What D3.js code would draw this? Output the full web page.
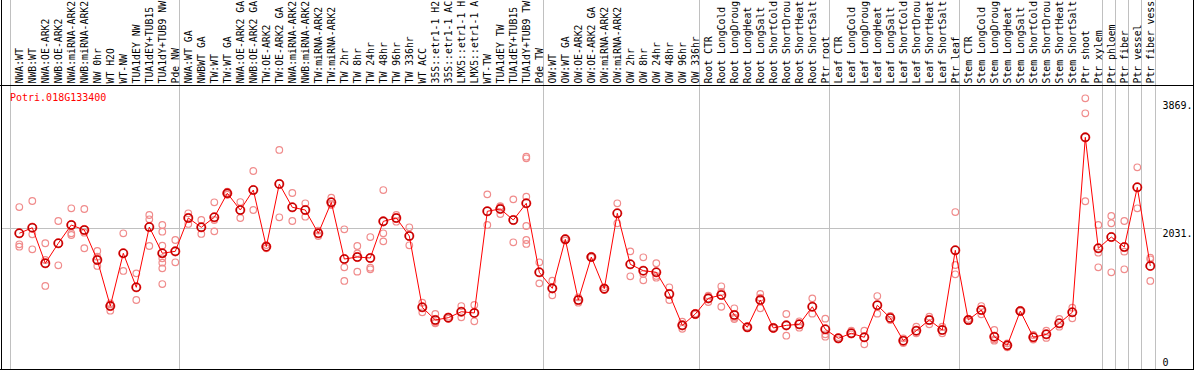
<!DOCTYPE html>
<html>
<head>
<meta charset="utf-8">
<script src="https://cdn.jsdelivr.net/npm/d3@7/dist/d3.min.js"></script>
<style>
  html, body { margin: 0; padding: 0; background: #fff; }
  svg { display: block; }
  text { font-family: "DejaVu Sans Mono", "Liberation Mono", monospace; }
</style>
</head>
<body>
<svg id="chart" width="1194" height="370"></svg>
<script>
const title = "Potri.018G133400";

const categories = [
  "NWA:WT","NWB:WT","NWA:OE-ARK2","NWB:OE-ARK2","NWA:miRNA-ARK2","NWB:miRNA-ARK2","NW 0hr","WT H2O","WT-NW","TUA1dEY NW",
  "TUA1dEY+TUB15","TUA1dY+TUB9 NW","Pde NW",
  "NWA:WT GA","NWBWT GA","TW:WT","TW:WT GA","NWA:OE-ARK2 GA","NWB:OE-ARK2 GA","TW:OE-ARK2","TW:OE-ARK2 GA",
  "NWA:miRNA-ARK2","NWB:miRNA-ARK2","TW:miRNA-ARK2","TW:miRNA-ARK2","TW 2hr","TW 8hr","TW 24hr","TW 48hr","TW 96hr","TW 336hr",
  "WT ACC","35S::etr1-1 H2","35S::etr1-1 AC","LMX5::etr1-1 H","LMX5::etr1-1 A","WT-TW","TUA1dEY TW","TUA1dEY+TUB15","TUA1dY+TUB9 TW","Pde TW",
  "OW:WT","OW:WT GA","OW:OE-ARK2","OW:OE-ARK2 GA","OW:miRNA-ARK2","OW:miRNA-ARK2","OW 2hr","OW 8hr","OW 24hr","OW 48hr","OW 96hr","OW 336hr",
  "Root CTR","Root LongCold","Root LongDroug","Root LongHeat","Root LongSalt","Root ShortCold","Root ShortDrou","Root ShortHeat","Root ShortSalt","Ptr root",
  "Leaf CTR","Leaf LongCold","Leaf LongDroug","Leaf LongHeat","Leaf LongSalt","Leaf ShortCold","Leaf ShortDrou","Leaf ShortHeat","Leaf ShortSalt","Ptr leaf",
  "Stem CTR","Stem LongCold","Stem LongDroug","Stem LongHeat","Stem LongSalt","Stem ShortCold","Stem ShortDrou","Stem ShortHeat","Stem ShortSalt","Ptr shoot","Ptr xylem",
  "Ptr phloem","Ptr fiber","Ptr vessel","Ptr fiber vess"
];

const groupSizes = [13, 28, 12, 10, 10, 11, 1, 1, 1, 1];

const means = [
  1955,2035,1523,1811,2074,2002,1570,907,1667,1177,
  2045,1667,1695,2175,2041,2185,2531,2290,2578,1762,
  2665,2329,2290,1955,2401,1584,1613,1599,2127,2175,
  1916,889,706,739,825,807,2272,2305,2146,2387,
  1393,1162,1868,994,1613,1157,2243,1508,1416,1393,
  1080,629,792,1018,1066,778,601,994,591,629,
  644,897,572,442,514,457,918,735,408,552,
  706,562,1710,706,850,465,341,835,457,500,
  658,817,3337,1739,1901,1757,2617,1484
];

const replicates = [
  [2333,1796,1762],[2420,1940,1724],[1811,1570,1196],[2132,1494],[2315,1955,1930],
  [2305,1963,1739],[1700,1618,1484],[946,840,930],[1955,1412],[1378,994],
  [2218,2156,1772],[2074,1978,1776,1595,1531,1450,1224],[1858,1537],[2243,2089],[2146,1945],
  [2401,2146,1983],[2554,2510,2530],[2405,2175],[2852,2290],[1739,1785],
  [3155,2185],[2535,2132],[2387,2194],[1916,1994],[2467,2362,2375],
  [2012,1465,1268],[1772,1402,1665],[1901,1459,1436],[2578,1955,1839],[2218,2122],
  [2041,1782],[955,817],[792,658,670],[753,725],[907,745],
  [922,687],[2516,2074],[2338,2233,2345],[2444,1825],[3058,3035,2482,2060,1858,1801],
  [1537,1234],[1272,1062],[1883,1853],[955,1033],[1620,1606],
  [1138,1176],[2387,2099],[1695,1335],[1609,1368,1278],[1523,1315,1340],
  [1177,994],[681,580],[800,785],[1056,965],[1191,897,1110],
  [874,720,740],[610,592],[1080,874,1028],[598,584],[792,480],
  [687,595],[1018,797],[725,500,465],[428,456],[552,500],
  [552,356],[1051,797],[706,764],[442,374],[609,514],
  [753,644],[609,514],[2261,1498,1364],[720,692],[907,788],
  [562,408,425],[370,313],[842,828],[490,424],[552,448],
  [720,609],[883,730],[3899,3683,2416],[2074,1675,1465],[2204,2099,1393],
  [2132,1690,1436],[2905,2315],[1603,1580,1268]
];

const yTickValues = [0, 2031, 3869];
const yTickLabels = ["0", "2031.", "3869."];

const W = 1194, H = 370;
const svg = d3.select("#chart");

const x = d3.scaleBand().domain(d3.range(categories.length)).range([10, 1154]).padding(0);
const px = i => x(i) + 9.3;
const y = d3.scaleLinear().domain([0, 2031]).range([369, 228]);

svg.append("rect").attr("width", W).attr("height", H).attr("fill", "#fff");

// group boundary gridlines
const bounds = [0];
groupSizes.forEach(s => bounds.push(bounds[bounds.length - 1] + s));
svg.append("g").selectAll("line").data(bounds).join("line")
  .attr("x1", d => Math.round(d < categories.length ? x(d) : 1155) + 0.5)
  .attr("x2", d => Math.round(d < categories.length ? x(d) : 1155) + 0.5)
  .attr("y1", 0).attr("y2", 369)
  .attr("stroke", "#c0c0c0").attr("stroke-width", 1);

// horizontal gridline at the middle tick
svg.append("line")
  .attr("x1", 1).attr("x2", 1162)
  .attr("y1", Math.round(y(2031)) + 0.5).attr("y2", Math.round(y(2031)) + 0.5)
  .attr("stroke", "#c0c0c0").attr("stroke-width", 1);

// frame
svg.append("line").attr("x1", 0).attr("x2", 1194).attr("y1", 85.5).attr("y2", 85.5).attr("stroke", "#000");
svg.append("line").attr("x1", 0).attr("x2", 1194).attr("y1", 369.5).attr("y2", 369.5).attr("stroke", "#000");
svg.append("line").attr("x1", 1.5).attr("x2", 1.5).attr("y1", 0).attr("y2", 370).attr("stroke", "#000");
svg.append("line").attr("x1", 1193.5).attr("x2", 1193.5).attr("y1", 0).attr("y2", 370).attr("stroke", "#000");

// category labels
svg.append("g").selectAll("text").data(categories).join("text")
  .attr("transform", (d, i) => `translate(${px(i)},83.5) rotate(-90)`)
  .attr("text-anchor", "start")
  .attr("dominant-baseline", "central")
  .attr("font-size", 9.8)
  .attr("fill", "#000")
  .text(d => d);

// y tick labels
svg.append("g").selectAll("text").data(yTickValues).join("text")
  .attr("x", 1162.5)
  .attr("y", d => Math.min(y(d) + 1.5, 359))
  .attr("dominant-baseline", "hanging")
  .attr("font-size", 10)
  .attr("fill", "#000")
  .text((d, i) => yTickLabels[i]);

// title
svg.append("text").attr("x", 10).attr("y", 101)
  .attr("font-size", 10).attr("fill", "#ff0000").text(title);

// replicate points
const repPts = [];
replicates.forEach((arr, i) => arr.forEach(v => repPts.push({ i, v })));
svg.append("g").selectAll("circle").data(repPts).join("circle")
  .attr("cx", d => px(d.i)).attr("cy", d => y(d.v)).attr("r", 3.3)
  .attr("fill", "none").attr("stroke", "#f08c8c").attr("stroke-width", 1.2);

// mean line
const line = d3.line().x((d, i) => px(i)).y(d => y(d));
svg.append("path").datum(means).attr("d", line)
  .attr("fill", "none").attr("stroke", "#ff0000").attr("stroke-width", 1);

// mean points
svg.append("g").selectAll("circle").data(means).join("circle")
  .attr("cx", (d, i) => px(i)).attr("cy", d => y(d)).attr("r", 4)
  .attr("fill", "none").attr("stroke", "#b00000").attr("stroke-width", 1.6);
svg.append("g").selectAll("circle").data(means).join("circle")
  .attr("cx", (d, i) => px(i)).attr("cy", d => y(d)).attr("r", 4.6)
  .attr("fill", "none").attr("stroke", "#ff0000").attr("stroke-width", 0.6);
</script>
</body>
</html>
